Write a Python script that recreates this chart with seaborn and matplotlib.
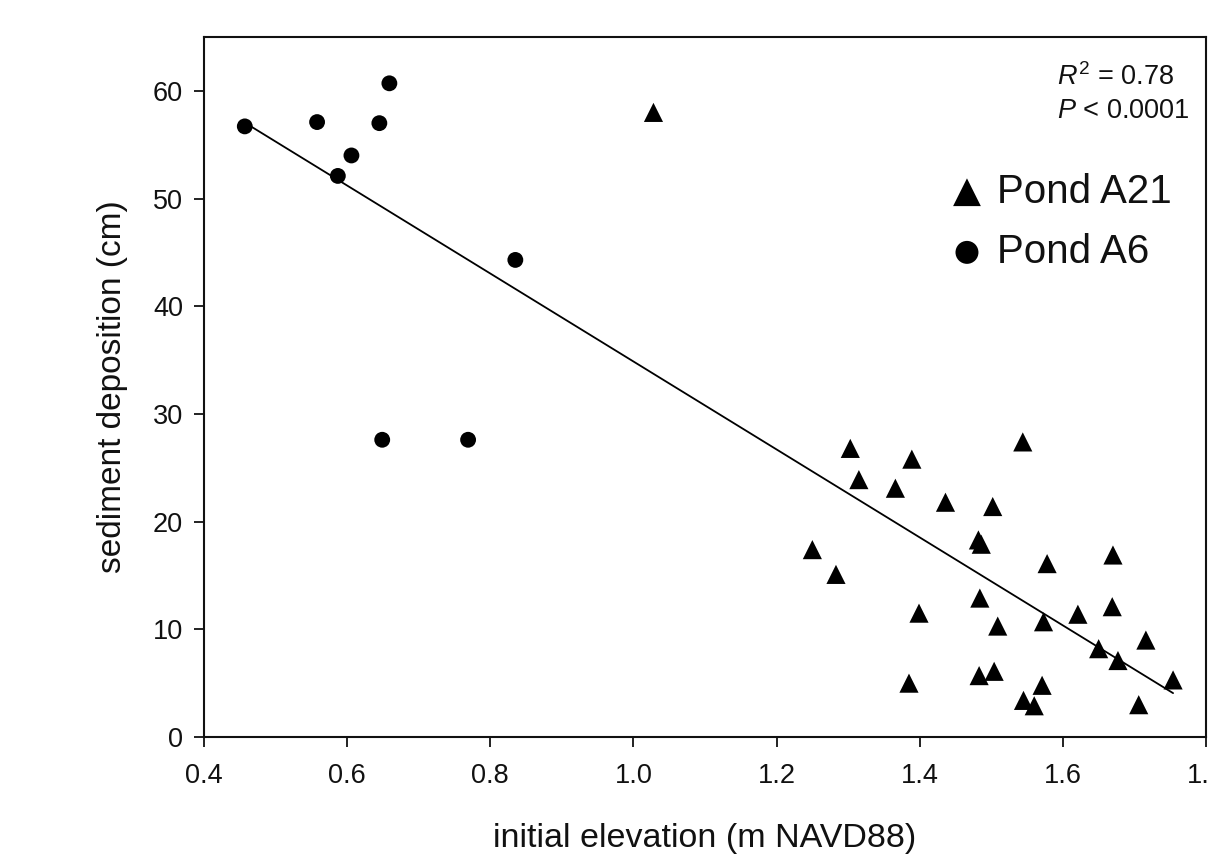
import numpy as np
import pandas as pd
import seaborn as sns
import matplotlib.pyplot as plt

# Pond A6 (circles)
a6_elev = [0.457, 0.558, 0.659, 0.645, 0.606, 0.587, 0.835, 0.649, 0.769]
a6_sed = [56.7, 57.1, 60.7, 57.0, 54.0, 52.1, 44.3, 27.6, 27.6]

# Pond A21 (triangles)
a21_elev = [1.028, 1.303, 1.389, 1.315, 1.366, 1.544, 1.436, 1.502, 1.482, 1.486,
            1.250, 1.283, 1.670, 1.578, 1.484, 1.399, 1.509, 1.573, 1.621, 1.669,
            1.716, 1.650, 1.677, 1.385, 1.483, 1.504, 1.571, 1.545, 1.560, 1.706,
            1.754]
a21_sed = [58.0, 26.8, 25.8, 23.9, 23.1, 27.4, 21.8, 21.4, 18.3, 17.9,
           17.4, 15.1, 16.9, 16.1, 12.9, 11.5, 10.3, 10.7, 11.4, 12.1,
           9.0, 8.2, 7.1, 5.0, 5.7, 6.1, 4.8, 3.4, 2.9, 3.0,
           5.3]

x_ticks = [0.4, 0.6, 0.8, 1.0, 1.2, 1.4, 1.6, 1.8]
y_ticks = [0, 10, 20, 30, 40, 50, 60]


def main():
    sns.set_style("ticks")
    plt.rcParams["font.family"] = ["Liberation Sans", "DejaVu Sans"]
    plt.rcParams["mathtext.fontset"] = "custom"
    plt.rcParams["mathtext.rm"] = "Liberation Sans"
    plt.rcParams["mathtext.it"] = "Liberation Sans:italic"
    plt.rcParams["text.color"] = "#111111"
    plt.rcParams["axes.labelcolor"] = "#111111"
    plt.rcParams["xtick.color"] = "#111111"
    plt.rcParams["ytick.color"] = "#111111"

    df = pd.concat([
        pd.DataFrame({"elev": a21_elev, "sed": a21_sed, "pond": "Pond A21"}),
        pd.DataFrame({"elev": a6_elev, "sed": a6_sed, "pond": "Pond A6"}),
    ], ignore_index=True)

    fig = plt.figure(figsize=(12.08, 8.58), dpi=100)
    ax = fig.add_axes([204 / 1208, 1 - 737 / 858, 1002 / 1208, 700 / 858])

    # regression line over both ponds
    sns.regplot(data=df, x="elev", y="sed", scatter=False, ci=None,
                color="black", line_kws={"linewidth": 1.3}, ax=ax)

    sns.scatterplot(data=df[df.pond == "Pond A21"], x="elev", y="sed",
                    marker="^", s=190, color="black", edgecolor="none",
                    label="Pond A21", ax=ax, zorder=3)
    sns.scatterplot(data=df[df.pond == "Pond A6"], x="elev", y="sed",
                    marker="o", s=130, color="black", edgecolor="none",
                    label="Pond A6", ax=ax, zorder=3)

    ax.set_xlim(0.4, 1.8)
    ax.set_ylim(0, 65)
    ax.set_xticks(x_ticks)
    ax.set_xticklabels([f"{v:.1f}" for v in x_ticks])
    ax.set_yticks(y_ticks)
    ax.tick_params(labelsize=19.5, length=7, width=1.3)
    ax.tick_params(axis="x", pad=12)
    ax.tick_params(axis="y", pad=8)
    for sp in ax.spines.values():
        sp.set_linewidth(1.5)
        sp.set_color("#111111")

    ax.set_xlabel("initial elevation (m NAVD88)", fontsize=24.5, labelpad=24)
    ax.set_ylabel("sediment deposition (cm)", fontsize=24, labelpad=18)

    ax.annotate(r"$\mathit{R}^2$ = 0.78", xy=(1057, 858 - 77),
                xycoords="figure pixels", fontsize=19.5, va="center", ha="left")
    ax.annotate(r"$\mathit{P}$ < 0.0001", xy=(1057, 858 - 111),
                xycoords="figure pixels", fontsize=19.5, va="center", ha="left")

    ax.legend(loc="upper right", bbox_to_anchor=(0.966, 0.806),
              frameon=False, fontsize=29, handletextpad=0.25,
              labelspacing=0.55, borderpad=0, borderaxespad=0,
              handlelength=1.0, markerscale=1.45)

    fig.savefig("out.png", dpi=100)


if __name__ == "__main__":
    main()
